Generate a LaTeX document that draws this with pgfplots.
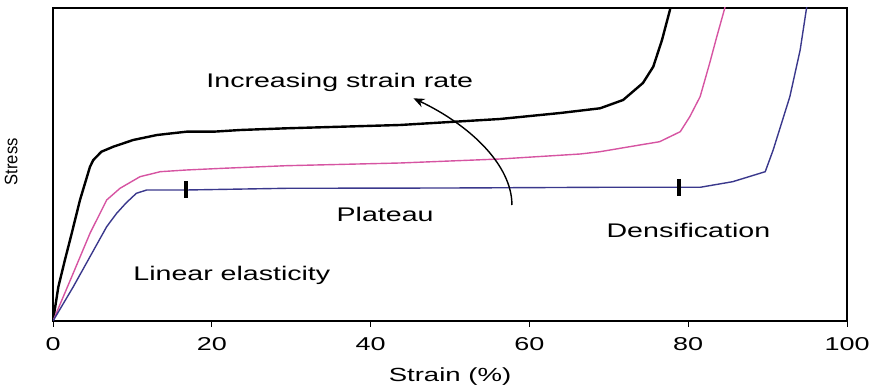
\documentclass[border=0pt]{standalone}
\usepackage{fontspec}
\setmainfont{Liberation Sans}[FakeStretch=1.45]
\usepackage{pgfplots}
\pgfplotsset{compat=1.18}
\usetikzlibrary{arrows.meta}
\definecolor{pinkc}{RGB}{214,84,162}
\definecolor{navyc}{RGB}{58,56,140}

\pgfplotstableread{
x y
0 0
0.67 34
1.5 61
2.36 87.7
3.4 121
4.66 154.3
5.08 161
6.1 169.3
7.6 174.3
10.1 181
13.1 186
16.8 189.3
20.2 189.3
23.6 191
29.4 192.7
43.7 196
56.3 202
63.9 208
68.9 212.7
71.8 221
74.3 238
75.6 254.3
76.7 281
77.7 311
78.0 325
}\blackdata

\pgfplotstableread{
x y
0 0
2.4 45
4.66 87.7
6.76 121
8.44 132.7
10.96 144.3
13.5 149.3
16.8 151
21.4 152.7
29.4 155.3
43.7 158
56.3 162
66.4 167
68.9 169.3
73.9 176
76.4 179.3
79.0 189.3
80.2 204.3
81.5 224.3
82.7 257.7
83.6 284.3
84.6 312.7
84.9 325
}\pinkdata

\pgfplotstableread{
x y
0 0
2.56 34.3
4.66 64.3
6.76 94.3
8.02 107.7
9.2 118
10.5 127.7
11.8 131
16.8 131
29.4 132.7
50 133
68.9 133.7
81.5 133.7
85.6 139.3
89.7 149.3
90.7 171
92.8 224.3
94.1 271
94.9 312.7
95.2 325
}\navydata

\begin{document}
\begin{tikzpicture}
\begin{axis}[
  scale only axis, width=794pt, height=313pt,
  xmin=0, xmax=100, ymin=0, ymax=313,
  axis line style={line width=2.5pt},
  xtick={0,20,40,60,80,100}, ytick=\empty,
  tick align=outside, xtick pos=left,
  major tick length=6pt,
  tick style={line width=1pt, black},
  /pgf/number format/assume math mode=true,
  xticklabel style={font=\fontsize{18.6}{20}\selectfont, anchor=base, yshift=-24pt},
  xlabel={Strain (\%)},
  xlabel style={font=\fontsize{19}{20}\selectfont, at={(axis description cs:0.5,0)}, anchor=base, yshift=-61pt},
  clip=true,
]
\addplot[black, line width=2.4pt] table {\blackdata};
\addplot[pinkc, line width=1.4pt] table {\pinkdata};
\addplot[navyc, line width=1.4pt] table {\navydata};
\addplot[only marks, mark=|, mark size=8.5pt, mark options={line width=4pt, black}] coordinates {(16.8,131) (78.9,133.5)};

\draw[line width=1.4pt, -{Stealth[length=11pt,width=9pt]}] (axis cs:57.8,116) .. controls (axis cs:57.8,156) and (axis cs:52.5,196) .. (axis cs:45.4,222.7);

\node[anchor=base west, inner sep=0, font=\fontsize{19.7}{22}\selectfont] at (axis cs:19.3,233.7) {Increasing strain rate};
\node[anchor=base west, inner sep=0, font=\fontsize{19.7}{22}\selectfont] at (axis cs:10.1,40) {Linear elasticity};
\node[anchor=base west, inner sep=0, font=\fontsize{19.7}{22}\selectfont] at (axis cs:35.7,99.3) {Plateau};
\node[anchor=base west, inner sep=0, font=\fontsize{19.7}{22}\selectfont] at (axis cs:69.7,83.7) {Densification};
\end{axis}
\node[rotate=90, anchor=base, inner sep=0] at (-35.7pt,159.3pt) {\scalebox{0.773}[1.22]{\fontsize{14.8}{16}\selectfont Stress}};
\pgfresetboundingbox
\useasboundingbox (-53pt,-66pt) rectangle (819pt,321pt);
\end{tikzpicture}
\end{document}
